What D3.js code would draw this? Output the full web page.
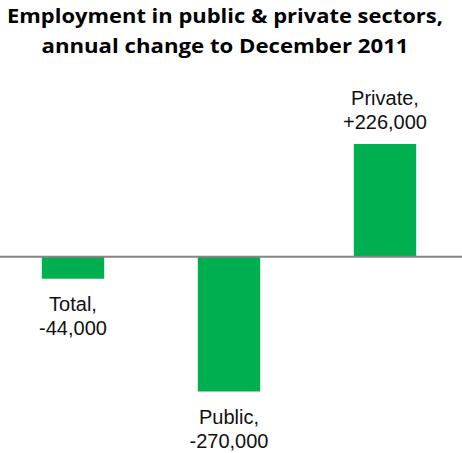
<!DOCTYPE html>
<html>
<head>
<meta charset="utf-8">
<script src="https://cdn.jsdelivr.net/npm/d3@7/dist/d3.min.js"></script>
<style>
  html, body { margin: 0; padding: 0; background: #fff; }
  svg { display: block; }
</style>
</head>
<body>
<svg id="chart" width="462" height="453"></svg>
<script>
// Annual change in employment by sector, to December 2011
const categories = ["Total", "Public", "Private"];
const values = [-44000, -270000, 226000];
const titleLines = [
  "Employment in public & private sectors,",
  "annual change to December 2011"
];

const W = 462, H = 453;
const svg = d3.select("#chart");

const fmt = d3.formatLocale({
  decimal: ".", thousands: ",", grouping: [3], currency: ["", ""], minus: "-"
}).format("+,");
const labelText = (v) => v < 0 ? fmt(v) : fmt(v);

const x = d3.scaleBand()
  .domain(categories)
  .range([-5, 463])
  .paddingInner(0.6)
  .paddingOuter(0.3);

const y = d3.scaleLinear()
  .domain([d3.min(values), d3.max(values)])
  .range([391.5, 144]);

const green = "#00b050";

// Title
const title = svg.append("g").attr("class", "title");
const titleWidths = [436, 367];
const titleBaselines = [22.5, 53];
titleLines.forEach((t, i) => {
  title.append("text")
    .attr("x", 225)
    .attr("y", titleBaselines[i])
    .attr("text-anchor", "middle")
    .attr("font-family", "'Open Sans', sans-serif")
    .attr("font-weight", 700)
    .attr("font-size", 19.5)
    .attr("fill", "#000")
    .attr("textLength", titleWidths[i])
    .attr("lengthAdjust", "spacingAndGlyphs")
    .text(t);
});

const data = categories.map((c, i) => ({ name: c, value: values[i] }));

// Bars
svg.append("g").selectAll("rect")
  .data(data)
  .join("rect")
  .attr("x", d => x(d.name))
  .attr("width", x.bandwidth())
  .attr("y", d => Math.min(y(d.value), y(0)))
  .attr("height", d => Math.abs(y(d.value) - y(0)))
  .attr("fill", green);

// Zero line across the plot
svg.append("line")
  .attr("x1", 0).attr("x2", W)
  .attr("y1", y(0)).attr("y2", y(0))
  .attr("stroke", "#858585")
  .attr("stroke-width", 2);

// Category / value labels
const labels = svg.append("g")
  .attr("font-family", "'Liberation Sans', Arial, sans-serif")
  .attr("font-size", 20)
  .attr("fill", "#111")
  .attr("text-anchor", "middle");

data.forEach(d => {
  const cx = x(d.name) + x.bandwidth() / 2;
  const lines = [d.name + ",", labelText(d.value)];
  const base = d.value >= 0 ? y(d.value) - 39 : y(d.value) + 32.5;
  lines.forEach((t, i) => {
    labels.append("text")
      .attr("x", cx)
      .attr("y", base + i * 23.5)
      .text(t);
  });
});
</script>
</body>
</html>
